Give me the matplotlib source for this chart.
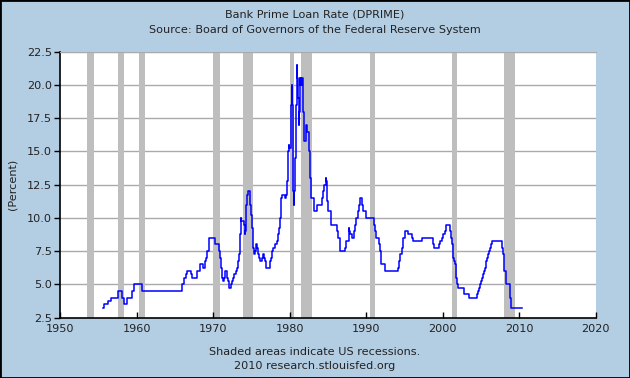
import matplotlib
matplotlib.use("Agg")
import matplotlib.pyplot as plt
from matplotlib.patches import Rectangle

# prime rate step changes (decimal year, percent)
years = [
    1955.59, 1955.79, 1956.28, 1956.64, 1957.60, 1958.06, 1958.30, 1958.70,
    1959.38, 1959.67, 1960.64, 1965.93, 1966.19, 1966.49, 1966.62, 1967.07,
    1967.24, 1967.89, 1968.30, 1968.73, 1968.92, 1968.96, 1969.02, 1969.21,
    1969.44, 1970.23, 1970.72, 1970.86, 1970.89, 1970.97, 1971.01, 1971.05,
    1971.13, 1971.19, 1971.21, 1971.25, 1971.36, 1971.51, 1971.80, 1971.84,
    1971.99, 1972.04, 1972.07, 1972.29, 1972.45, 1972.62, 1972.78, 1972.95,
    1973.12, 1973.20, 1973.28, 1973.36, 1973.40, 1973.45, 1973.47, 1973.52,
    1973.54, 1973.56, 1973.58, 1973.60, 1973.62, 1973.64, 1973.67, 1973.70,
    1973.80, 1974.05, 1974.10, 1974.13, 1974.20, 1974.23, 1974.26, 1974.28,
    1974.30, 1974.32, 1974.35, 1974.39, 1974.43, 1974.50, 1974.78, 1974.81,
    1974.85, 1974.88, 1974.93, 1974.97, 1975.01, 1975.04, 1975.08, 1975.11,
    1975.14, 1975.17, 1975.21, 1975.24, 1975.27, 1975.33, 1975.49, 1975.54,
    1975.62, 1975.73, 1975.85, 1976.05, 1976.15, 1976.43, 1976.48, 1976.62,
    1976.78, 1976.85, 1976.95, 1977.38, 1977.45, 1977.62, 1977.70, 1977.80,
    1978.02, 1978.38, 1978.45, 1978.48, 1978.55, 1978.65, 1978.70, 1978.75,
    1978.80, 1978.85, 1978.88, 1978.93, 1978.97, 1979.45, 1979.55, 1979.62,
    1979.66, 1979.70, 1979.73, 1979.76, 1979.80, 1979.83, 1979.88, 1979.95,
    1980.12, 1980.15, 1980.17, 1980.19, 1980.21, 1980.23, 1980.25, 1980.27,
    1980.29, 1980.31, 1980.35, 1980.38, 1980.41, 1980.44, 1980.47, 1980.50,
    1980.53, 1980.58, 1980.62, 1980.66, 1980.70, 1980.72, 1980.74, 1980.76,
    1980.78, 1980.80, 1980.83, 1980.86, 1980.88, 1980.90, 1980.92, 1980.95,
    1980.97, 1981.05, 1981.10, 1981.14, 1981.17, 1981.20, 1981.23, 1981.26,
    1981.30, 1981.34, 1981.36, 1981.38, 1981.40, 1981.42, 1981.50, 1981.55,
    1981.68, 1981.72, 1981.76, 1981.80, 1981.84, 1981.87, 1981.90, 1981.93,
    1982.12, 1982.16, 1982.25, 1982.50, 1982.55, 1982.58, 1982.61, 1982.63,
    1982.66, 1982.70, 1982.78, 1982.85, 1983.15, 1983.60, 1983.90, 1984.20,
    1984.33, 1984.45, 1984.72, 1984.78, 1984.82, 1984.87, 1984.90, 1984.93,
    1984.96, 1985.05, 1985.38, 1985.46, 1986.18, 1986.30, 1986.52, 1986.63,
    1987.28, 1987.35, 1987.40, 1987.70, 1987.78, 1987.82, 1987.88, 1988.10,
    1988.38, 1988.55, 1988.65, 1988.90, 1989.12, 1989.15, 1989.45, 1989.55,
    1990.02, 1991.02, 1991.10, 1991.35, 1991.70, 1991.85, 1991.97, 1992.52,
    1994.22, 1994.30, 1994.38, 1994.62, 1994.88, 1995.08, 1995.52, 1995.97,
    1996.08, 1997.25, 1998.75, 1998.80, 1998.90, 1999.50, 1999.65, 1999.88,
    2000.08, 2000.25, 2000.38, 2001.01, 2001.08, 2001.23, 2001.30, 2001.38,
    2001.48, 2001.65, 2001.70, 2001.80, 2001.85, 2001.95, 2002.85, 2003.48,
    2004.50, 2004.62, 2004.72, 2004.87, 2004.96, 2005.10, 2005.23, 2005.36,
    2005.50, 2005.61, 2005.72, 2005.85, 2005.96, 2006.08, 2006.23, 2006.36,
    2006.50, 2007.72, 2007.83, 2007.95, 2008.06, 2008.08, 2008.22, 2008.33,
    2008.78, 2008.82, 2008.96, 2010.40,
]
rates = [
    3.25, 3.50, 3.75, 4.00, 4.50, 4.00, 3.50, 4.00,
    4.50, 5.00, 4.50, 5.00, 5.50, 5.75, 6.00, 5.75,
    5.50, 6.00, 6.50, 6.25, 6.50, 6.75, 7.00, 7.50,
    8.50, 8.00, 7.50, 7.25, 7.00, 6.75, 6.50, 6.25,
    6.00, 5.75, 5.50, 5.25, 5.50, 6.00, 5.75, 5.50,
    5.25, 5.00, 4.75, 5.00, 5.25, 5.50, 5.75, 6.00,
    6.25, 6.50, 6.75, 7.00, 7.25, 7.50, 8.00, 8.25,
    8.50, 8.75, 9.00, 9.25, 9.50, 9.75, 10.00, 9.75,
    9.75, 9.50, 9.25, 8.75, 9.00, 9.25, 9.50, 9.75,
    10.00, 10.50, 11.00, 11.25, 11.75, 12.00, 11.75, 11.50,
    11.25, 11.00, 10.75, 10.50, 10.25, 10.00, 9.75, 9.50,
    9.25, 8.75, 8.50, 8.00, 7.75, 7.25, 7.50, 7.75,
    8.00, 7.75, 7.25, 7.00, 6.75, 7.00, 7.25, 7.00,
    6.75, 6.50, 6.25, 6.50, 6.75, 7.00, 7.50, 7.75,
    8.00, 8.25, 8.50, 8.75, 9.00, 9.25, 9.50, 9.75,
    10.00, 10.50, 11.00, 11.50, 11.75, 11.50, 11.75, 12.00,
    12.25, 12.75, 13.00, 13.50, 14.50, 15.00, 15.50, 15.25,
    15.75, 16.25, 16.75, 17.25, 17.75, 18.50, 19.00, 19.50,
    20.00, 19.50, 18.50, 17.50, 16.50, 14.50, 13.00, 12.00,
    11.00, 11.50, 12.00, 12.50, 13.00, 13.50, 14.00, 14.50,
    15.50, 16.25, 17.00, 17.75, 18.50, 19.00, 20.00, 21.50,
    20.50, 20.00, 19.50, 19.00, 18.00, 17.50, 17.00, 18.00,
    19.00, 19.50, 20.00, 20.50, 20.00, 20.50, 20.00, 20.50,
    20.00, 19.50, 19.00, 18.00, 17.50, 17.00, 16.50, 15.75,
    16.50, 17.00, 16.50, 16.00, 15.50, 15.00, 14.50, 14.00,
    13.50, 13.00, 12.00, 11.50, 10.50, 11.00, 11.00, 11.50,
    12.00, 12.50, 13.00, 12.75, 12.50, 12.00, 11.75, 11.25,
    10.75, 10.50, 10.00, 9.50, 9.00, 8.50, 8.00, 7.50,
    7.75, 8.00, 8.25, 8.75, 9.25, 9.00, 8.75, 8.50,
    9.00, 9.50, 10.00, 10.50, 11.00, 11.50, 11.00, 10.50,
    10.00, 9.50, 9.00, 8.50, 8.00, 7.50, 6.50, 6.00,
    6.25, 6.75, 7.25, 7.75, 8.50, 9.00, 8.75, 8.50,
    8.25, 8.50, 8.25, 8.00, 7.75, 8.00, 8.25, 8.50,
    8.75, 9.00, 9.50, 9.00, 8.50, 8.00, 7.50, 7.00,
    6.75, 6.50, 6.00, 5.50, 5.00, 4.75, 4.25, 4.00,
    4.25, 4.50, 4.75, 5.00, 5.25, 5.50, 5.75, 6.00,
    6.25, 6.50, 6.75, 7.00, 7.25, 7.50, 7.75, 8.00,
    8.25, 7.75, 7.50, 7.25, 6.50, 6.00, 5.25, 5.00,
    4.50, 4.00, 3.25, 3.25,
]

# NBER recessions (start, end) in decimal years
recessions = [
    (1953.54, 1954.37), (1957.62, 1958.29), (1960.29, 1961.12),
    (1969.96, 1970.87), (1973.87, 1975.21), (1980.04, 1980.54),
    (1981.54, 1982.87), (1990.54, 1991.21), (2001.21, 2001.87),
    (2007.96, 2009.46),
]

x_ticks = [1950, 1960, 1970, 1980, 1990, 2000, 2010, 2020]
y_ticks = [2.5, 5.0, 7.5, 10.0, 12.5, 15.0, 17.5, 20.0, 22.5]

bg = "#b3cde3"
plt.rcParams["font.family"] = "DejaVu Sans"
plt.rcParams["font.size"] = 8.1

fig = plt.figure(figsize=(6.3, 3.78), dpi=100, facecolor=bg)
fig.patches.append(Rectangle((0, 0), 1, 1, transform=fig.transFigure,
                             fill=False, edgecolor="black", linewidth=2))
ax = fig.add_axes([0.0955, 0.160, 0.850, 0.703])
ax.set_facecolor("white")

for start, end in recessions:
    ax.axvspan(start, end, color="#bebebe", linewidth=0, zorder=1)

for y in y_ticks[1:]:
    ax.axhline(y, color="#aaaaaa", linewidth=1, zorder=0.5)

ax.plot(years, rates, drawstyle="steps-post", color="#0000ff", linewidth=1.1, zorder=3)

ax.set_xlim(1950, 2020)
ax.set_ylim(2.5, 22.5)
ax.set_xticks(x_ticks)
ax.set_yticks(y_ticks)
ax.set_yticklabels([f"{v:.1f}" for v in y_ticks])
ax.tick_params(axis="x", direction="in", length=4, width=1, pad=5, colors="black")
ax.tick_params(axis="y", direction="out", length=4, width=1, pad=2, colors="black")
ax.tick_params(labelcolor="#222222")

ax.spines["right"].set_visible(False)
ax.spines["top"].set_color("#aaaaaa")
ax.spines["left"].set_linewidth(1.2)
ax.spines["bottom"].set_linewidth(1.2)

ax.set_ylabel("(Percent)", labelpad=7, color="#222222")

fig.text(0.5, 0.962, "Bank Prime Loan Rate (DPRIME)", ha="center", va="center", color="#222222")
fig.text(0.5, 0.920, "Source: Board of Governors of the Federal Reserve System",
         ha="center", va="center", color="#222222")
fig.text(0.5, 0.070, "Shaded areas indicate US recessions.", ha="center", va="center", color="#222222")
fig.text(0.5, 0.032, "2010 research.stlouisfed.org", ha="center", va="center", color="#222222")

fig.savefig("out.png", dpi=100, facecolor=bg)
